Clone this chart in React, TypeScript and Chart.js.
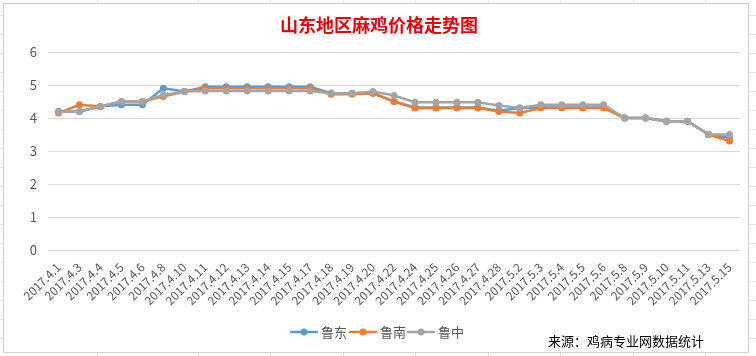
import React, { useEffect, useRef } from "react";
import { Chart, registerables } from "chart.js";

Chart.register(...registerables);

const TITLE = "山东地区麻鸡价格走势图";
const SOURCE = "来源：鸡病专业网数据统计";

const categories = [
  "2017.4.1", "2017.4.3", "2017.4.4", "2017.4.5", "2017.4.6", "2017.4.8", "2017.4.10",
  "2017.4.11", "2017.4.12", "2017.4.13", "2017.4.14", "2017.4.15", "2017.4.17", "2017.4.18",
  "2017.4.19", "2017.4.20", "2017.4.22", "2017.4.24", "2017.4.25", "2017.4.26", "2017.4.27",
  "2017.4.28", "2017.5.2", "2017.5.3", "2017.5.4", "2017.5.5", "2017.5.6", "2017.5.8",
  "2017.5.9", "2017.5.10", "2017.5.11", "2017.5.13", "2017.5.15",
];

const seriesNames = ["鲁东", "鲁南", "鲁中"];

const ludong = [
  4.2, 4.2, 4.35, 4.4, 4.4, 4.9, 4.8, 4.95, 4.95, 4.95, 4.95, 4.95, 4.95, 4.75, 4.75, 4.75,
  4.5, 4.32, 4.32, 4.32, 4.32, 4.22, 4.3, 4.32, 4.32, 4.32, 4.32, 4.0, 4.0, 3.9, 3.9, 3.5, 3.4,
];
const lunan = [
  4.15, 4.4, 4.35, 4.5, 4.5, 4.65, 4.8, 4.9, 4.9, 4.9, 4.9, 4.9, 4.9, 4.72, 4.72, 4.75,
  4.5, 4.3, 4.3, 4.3, 4.3, 4.2, 4.15, 4.3, 4.3, 4.3, 4.3, 4.0, 4.0, 3.9, 3.9, 3.5, 3.3,
];
const luzhong = [
  4.2, 4.2, 4.35, 4.5, 4.5, 4.7, 4.8, 4.82, 4.82, 4.82, 4.82, 4.82, 4.82, 4.75, 4.75, 4.8,
  4.68, 4.48, 4.48, 4.48, 4.48, 4.38, 4.3, 4.4, 4.4, 4.4, 4.4, 4.0, 4.0, 3.9, 3.9, 3.5, 3.5,
];

const yTicks = [0, 1, 2, 3, 4, 5, 6];

const colors = ["#5B9BD5", "#ED7D31", "#A5A5A5"];
const FONT = "'Noto Sans CJK SC', 'Noto Sans', sans-serif";

const decorPlugin = {
  id: "decor",
  beforeDraw(chart: any) {
    const ctx = chart.ctx;
    const W = chart.width;
    const H = chart.height;
    ctx.save();
    ctx.fillStyle = "#ffffff";
    ctx.fillRect(0, 0, W, H);
    ctx.strokeStyle = "#E3E3E3";
    ctx.lineWidth = 1;
    const vx = [97, 198, 270, 343, 415, 488, 560, 633, 705];
    for (const x of vx) {
      ctx.beginPath();
      ctx.moveTo(x + 0.5, 0);
      ctx.lineTo(x + 0.5, H);
      ctx.stroke();
    }
    for (let y = 15; y < H; y += 19) {
      ctx.beginPath();
      ctx.moveTo(0, y + 0.5);
      ctx.lineTo(W, y + 0.5);
      ctx.stroke();
    }
    ctx.fillStyle = "#ffffff";
    ctx.fillRect(3, 3, 745, 349);
    ctx.strokeStyle = "#D0D0D0";
    ctx.strokeRect(3.5, 3.5, 745, 349);
    ctx.fillStyle = "#E8000B";
    ctx.font = `bold 18px ${FONT}`;
    ctx.textAlign = "center";
    ctx.textBaseline = "middle";
    ctx.fillText(TITLE, 379, 25);
    ctx.restore();
  },
  afterDraw(chart: any) {
    const ctx = chart.ctx;
    ctx.save();
    const items = [
      { x: 291, name: seriesNames[0], color: colors[0] },
      { x: 350, name: seriesNames[1], color: colors[1] },
      { x: 408, name: seriesNames[2], color: colors[2] },
    ];
    const ly = 332;
    for (const it of items) {
      ctx.strokeStyle = it.color;
      ctx.lineWidth = 2.5;
      ctx.lineCap = "round";
      ctx.beginPath();
      ctx.moveTo(it.x, ly);
      ctx.lineTo(it.x + 26, ly);
      ctx.stroke();
      ctx.fillStyle = it.color;
      ctx.beginPath();
      ctx.arc(it.x + 13, ly, 3.5, 0, Math.PI * 2);
      ctx.fill();
      ctx.fillStyle = "#595959";
      ctx.font = `13px ${FONT}`;
      ctx.textAlign = "left";
      ctx.textBaseline = "middle";
      ctx.fillText(it.name, it.x + 30, ly);
    }
    ctx.fillStyle = "#000000";
    ctx.font = `13px ${FONT}`;
    ctx.textAlign = "left";
    ctx.textBaseline = "middle";
    ctx.fillText(SOURCE, 548, 341);
    ctx.restore();
  },
};

export default function App() {
  const ref = useRef<HTMLCanvasElement | null>(null);

  useEffect(() => {
    if (!ref.current) return;
    const seriesData = [ludong, lunan, luzhong];
    const chart = new Chart(ref.current, {
      type: "line",
      data: {
        labels: categories,
        datasets: seriesData.map((d, i) => ({
          label: seriesNames[i],
          data: d,
          borderColor: colors[i],
          backgroundColor: colors[i],
          borderWidth: 2.5,
          pointRadius: 3.5,
          pointHoverRadius: 3.5,
          pointBorderWidth: 0,
          pointBackgroundColor: colors[i],
          tension: 0,
          order: 3 - i,
        })),
      },
      options: {
        animation: false,
        responsive: false,
        maintainAspectRatio: false,
        layout: { padding: { left: 0, right: 16, top: 52, bottom: 50 } },
        plugins: {
          legend: { display: false },
          title: { display: false },
          tooltip: { enabled: false },
        },
        scales: {
          x: {
            offset: true,
            grid: { display: false },
            border: { display: false },
            ticks: {
              autoSkip: false,
              maxRotation: 45,
              minRotation: 45,
              color: "#595959",
              font: { size: 12, family: FONT },
              padding: 2,
            },
            afterFit(scale: any) {
              scale.height = 56;
            },
          },
          y: {
            min: 0,
            max: 6,
            afterBuildTicks(scale: any) {
              scale.ticks = yTicks.map((v) => ({ value: v }));
            },
            grid: { color: "#D9D9D9", drawTicks: false, lineWidth: 1 },
            border: { display: false },
            ticks: {
              color: "#595959",
              font: { size: 13, family: FONT },
              padding: 11,
            },
            afterFit(scale: any) {
              scale.width = 48;
            },
          },
        },
      },
      plugins: [decorPlugin],
    });
    return () => chart.destroy();
  }, []);

  return (
    <div style={{ position: "fixed", left: 0, top: 0, width: 756, height: 356 }}>
      <canvas ref={ref} width={756} height={356} style={{ width: 756, height: 356, display: "block" }} />
    </div>
  );
}
